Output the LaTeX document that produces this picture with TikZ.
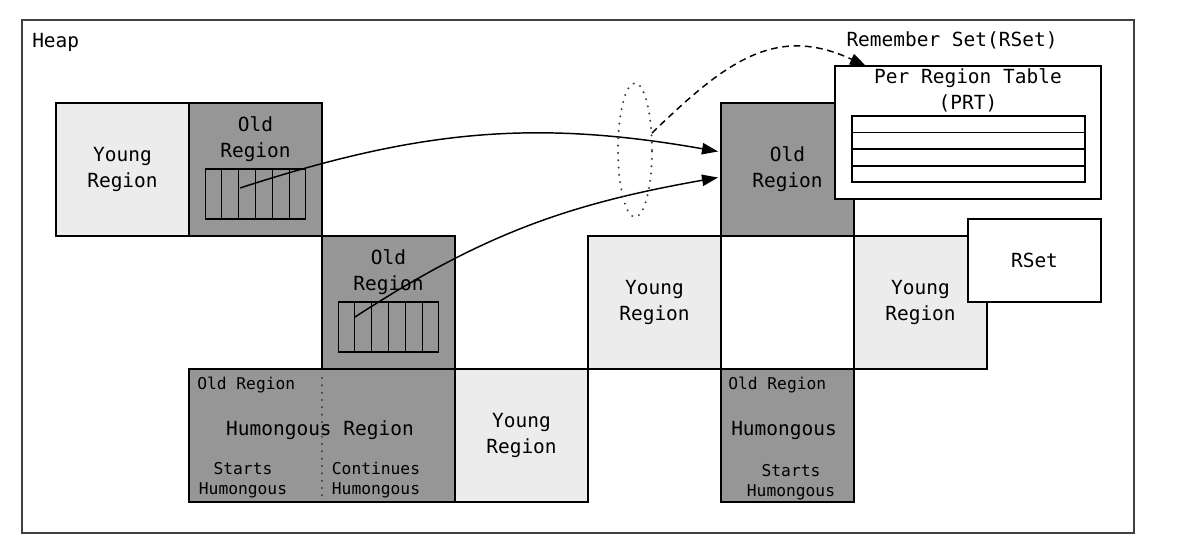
\documentclass[tikz,border=0pt]{standalone}
\usepackage{fontspec}
\setmonofont{DejaVu Sans Mono}
\usetikzlibrary{calc,positioning,arrows.meta}
\definecolor{oldgray}{RGB}{150,150,150}
\definecolor{younggray}{RGB}{236,236,236}
\newcommand{\bigtt}{\ttfamily\fontsize{14.6}{19.5}\selectfont}
\newcommand{\smalltt}{\ttfamily\fontsize{12.2}{15}\selectfont}

\begin{document}
\begin{tikzpicture}[x=0.75pt,y=0.75pt,
  region/.style={draw=black,line width=1.1pt,inner sep=0pt,outer sep=0pt,
    minimum width=99.75pt,minimum height=99.75pt,align=center,font=\bigtt},
  young/.style={region,fill=younggray},
  old/.style={region,fill=oldgray},
  card/.style={draw=black,line width=1pt,inner sep=0pt},
  txt/.style={font=\bigtt,align=center,inner sep=0pt},
  stxt/.style={font=\smalltt,align=center,inner sep=0pt},
  ref/.style={line width=1.1pt,-{Triangle[length=12pt,width=8.5pt]}},
  dots/.style={draw=black!75,line width=1.7pt,line cap=round,dash pattern=on 0pt off 5.5pt}]

\useasboundingbox (0,0) rectangle (1179,-544);
\draw[line width=1.3pt,draw=black!75] (22,-20) rectangle (1134,-533);
\node[txt,anchor=west] (heap) at (32,-42) {Heap};

% row 1
\node[young] (young1) at (122.5,-169.5) {Young\\Region};
\node[old] (old1) at (255.5,-169.5) {};
\node[old] (old3) at (787.5,-169.5) {Old\\Region};
% row 2
\node[old] (old2) at (388.5,-302.5) {};
\node[young] (young2) at (654.5,-302.5) {Young\\Region};
\node[region,fill=white] (free1) at (787.5,-302.5) {};
\node[young] (young3) at (920.5,-302.5) {Young\\Region};
% row 3
\node[old,minimum width=199.5pt] (hum1) at (322,-435.5) {};
\node[young] (young4) at (521.5,-435.5) {Young\\Region};
\node[old] (hum2) at (787.5,-435.5) {};

% old regions with cards
\node[txt] (old1t) at ($(old1.north)+(0,-36)$) {Old\\Region};
\node[txt] (old2t) at ($(old2.north)+(0,-36)$) {Old\\Region};
\node[card,minimum width=75pt,minimum height=37.5pt] (card1) at ($(old1.north)+(0,-91)$) {};
\node[card,minimum width=75pt,minimum height=37.5pt] (card2) at ($(old2.north)+(0,-91)$) {};
\foreach \c in {card1,card2}
  \foreach \k in {1,...,5}
    \draw[line width=1pt] ($(\c.north west)!\k/6!(\c.north east)$) -- ($(\c.south west)!\k/6!(\c.south east)$);

% humongous regions
\node[stxt,anchor=west] (hum1old) at ($(hum1.north west)+(8,-16)$) {Old Region};
\node[txt] (hum1t) at (320,-430) {Humongous Region};
\node[stxt] (hum1s) at (243,-480) {Starts\\Humongous};
\node[stxt] (hum1c) at (376,-480) {Continues\\Humongous};
\draw[dots] ($(hum1.north)+(0,-9)$) -- (hum1.south);
\node[stxt,anchor=west] (hum2old) at ($(hum2.north west)+(7,-16)$) {Old Region};
\node[txt] (hum2t) at (784,-430) {Humongous};
\node[stxt] (hum2s) at (791,-482) {Starts\\Humongous};

% remember set
\node[txt] (rsetlbl) at (952,-40) {Remember Set(RSet)};
\node[region,fill=white,minimum width=199.5pt] (prt) at (968,-132.5) {};
\node[txt] (prtt) at (968,-90) {Per Region Table\\(PRT)};
\node[card,minimum width=174.75pt,minimum height=49.5pt] (prttab) at (968.5,-149) {};
\foreach \k in {1,...,3}
  \draw[line width=1pt] ($(prttab.north west)!\k/4!(prttab.south west)$) -- ($(prttab.north east)!\k/4!(prttab.south east)$);
\node[region,fill=white,minimum height=62.25pt] (rset) at (1034.5,-260.5) {RSet};

% references
\coordinate (src1) at (240,-188);
\coordinate (src2) at (355,-317);
\coordinate (rsrc) at (652,-133);
\draw[ref] (src1) to[out=18,in=170] ([shift={(-3,18)}]old3.west);
\draw[ref] (src2) to[out=33,in=190] ([shift={(-3,-8)}]old3.west);
\draw[dots] (635,-150) ellipse [x radius=12.75pt, y radius=50.25pt];
\draw[ref,dash pattern=on 5pt off 3.5pt] (rsrc) to[out=44,in=155,looseness=1.15] ([shift={(31,0)}]prt.north west);
\end{tikzpicture}
\end{document}
